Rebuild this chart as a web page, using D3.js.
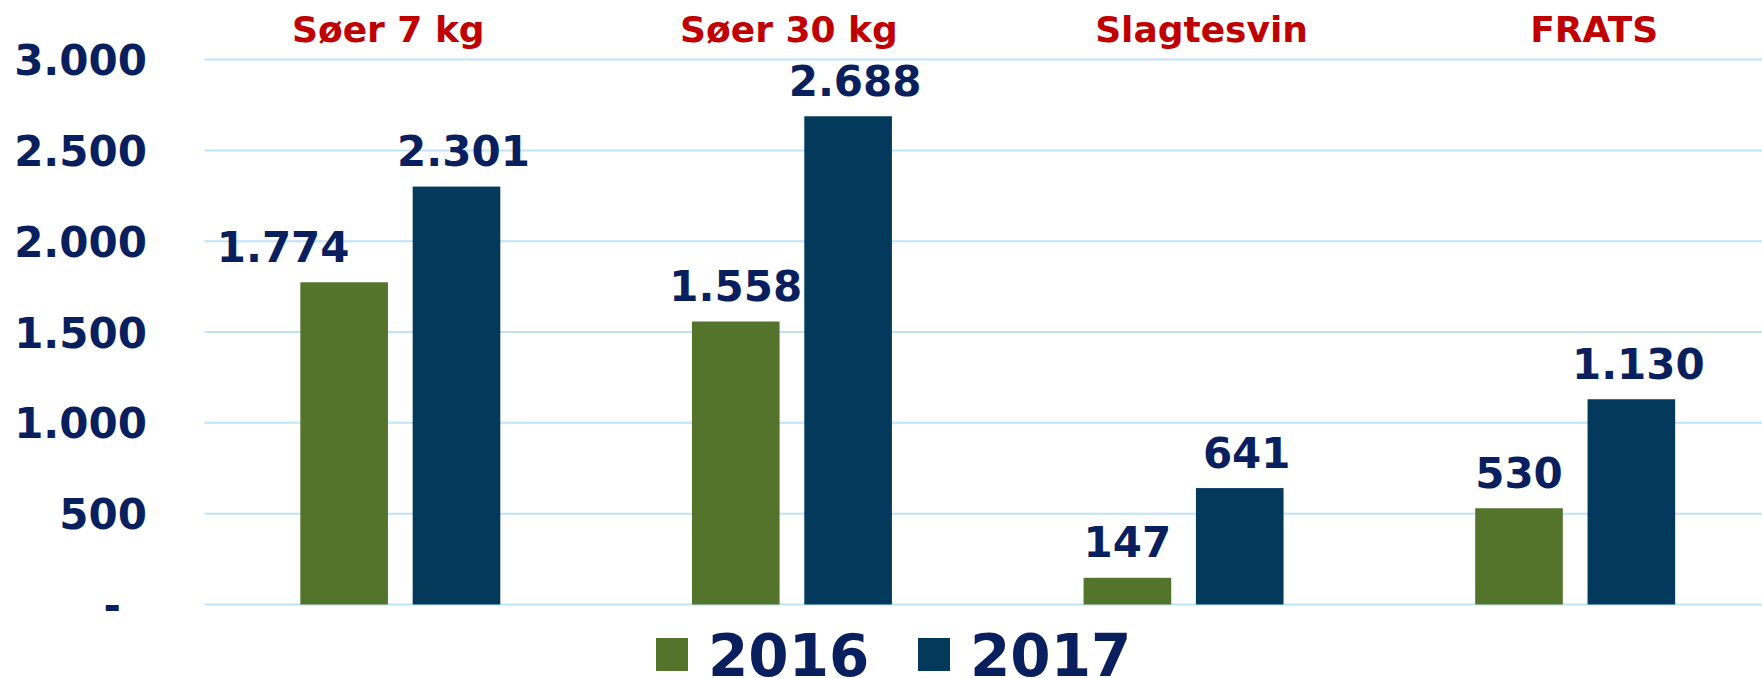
<!DOCTYPE html>
<meta charset="utf-8">
<style>
body { margin: 0; background: #fff; }
svg text { font-family: "DejaVu Sans", Verdana, sans-serif; font-weight: bold; }
.grid line { stroke: #bfe4f9; stroke-width: 2px; }
</style>
<svg width="1762" height="678"></svg>
<script src="https://cdn.jsdelivr.net/npm/d3@7"></script>
<script>
// data
var categories = ["Søer 7 kg", "Søer 30 kg", "Slagtesvin", "FRATS"];
var years = ["2016", "2017"];
var values2016 = [1774, 1558, 147, 530];
var values2017 = [2301, 2688, 641, 1130];
var yTicks = [0, 500, 1000, 1500, 2000, 2500, 3000];

var colors = {"2016": "#53742a", "2017": "#033a5c"};
var navy = "#0a1f5e";
// the titles were placed by hand, not exactly over the groups
var titleShift = [-12, -3, 18, 19];

var svg = d3.select("svg"),
    width = +svg.attr("width"),
    height = +svg.attr("height");

var plotLeft = 204.5, plotRight = 1771, plotTop = 59.6, plotBottom = 604.5;

var da = d3.formatLocale({decimal: ",", thousands: ".", grouping: [3], currency: ["", ""]});
var fmt = da.format(",d");

var x0 = d3.scaleBand().domain(categories).range([plotLeft, plotRight]);
var x1 = d3.scaleBand().domain(years).range([0, x0.bandwidth()])
    .paddingInner(0.22).paddingOuter(0.853);
var y = d3.scaleLinear().domain([0, 3000]).range([plotBottom, plotTop]);

var rows = categories.map(function(c, i) {
  return {cat: c, vals: [{year: "2016", v: values2016[i]}, {year: "2017", v: values2017[i]}]};
});

// gridlines
svg.append("g").attr("class", "grid")
  .selectAll("line")
  .data(yTicks)
  .enter().append("line")
  .attr("x1", plotLeft).attr("x2", width)
  .attr("y1", function(d) { return y(d); })
  .attr("y2", function(d) { return y(d); });

// y axis labels
var yAxis = svg.append("g")
  .attr("transform", "translate(147,0)")
  .call(d3.axisLeft(y).tickValues(yTicks).tickSize(0).tickPadding(0)
    .tickFormat(function(d) { return d === 0 ? "-" : fmt(d); }));
yAxis.select(".domain").remove();
yAxis.selectAll("text")
  .attr("fill", navy)
  .attr("font-size", 42)
  .attr("font-family", null)
  .attr("dy", "0.36em")
  .attr("dx", function(d) { return d === 0 ? -26 : 0; });

// category titles across the top
svg.append("g").selectAll("text")
  .data(categories)
  .enter().append("text")
  .attr("x", function(d, i) { return x0(d) + x0.bandwidth() / 2 + titleShift[i]; })
  .attr("y", 41.7)
  .attr("text-anchor", "middle")
  .attr("font-size", 36)
  .attr("fill", "#c00000")
  .text(function(d) { return d; });

// bars
var group = svg.append("g").selectAll("g")
  .data(rows)
  .enter().append("g")
  .attr("transform", function(d) { return "translate(" + x0(d.cat) + ",0)"; });

group.selectAll("rect")
  .data(function(d) { return d.vals; })
  .enter().append("rect")
  .attr("x", function(d) { return x1(d.year); })
  .attr("width", x1.bandwidth())
  .attr("y", function(d) { return y(d.v); })
  .attr("height", function(d) { return y(0) - y(d.v); })
  .attr("fill", function(d) { return colors[d.year]; });

// value labels (2017 labels sit a little right, the first 2016 label was dragged left)
group.each(function(r, i) {
  d3.select(this).selectAll("text")
    .data(r.vals)
    .enter().append("text")
    .attr("x", function(d) {
      var nudge = d.year === "2017" ? 7 : (i === 0 ? -61 : 0);
      return x1(d.year) + x1.bandwidth() / 2 + nudge;
    })
    .attr("y", function(d) { return y(d.v) - 20.5; })
    .attr("text-anchor", "middle")
    .attr("font-size", 42)
    .attr("fill", navy)
    .text(function(d) { return fmt(d.v); });
});

// legend
var legend = svg.append("g").selectAll("g")
  .data(years)
  .enter().append("g")
  .attr("transform", function(d, i) { return "translate(" + (656 + i * 262) + ",0)"; });
legend.append("rect")
  .attr("x", 0).attr("y", 638)
  .attr("width", 32).attr("height", 33)
  .attr("fill", function(d) { return colors[d]; });
legend.append("text")
  .attr("x", 52).attr("y", 675.5)
  .attr("font-size", 58)
  .attr("fill", navy)
  .text(function(d) { return d; });
</script>
